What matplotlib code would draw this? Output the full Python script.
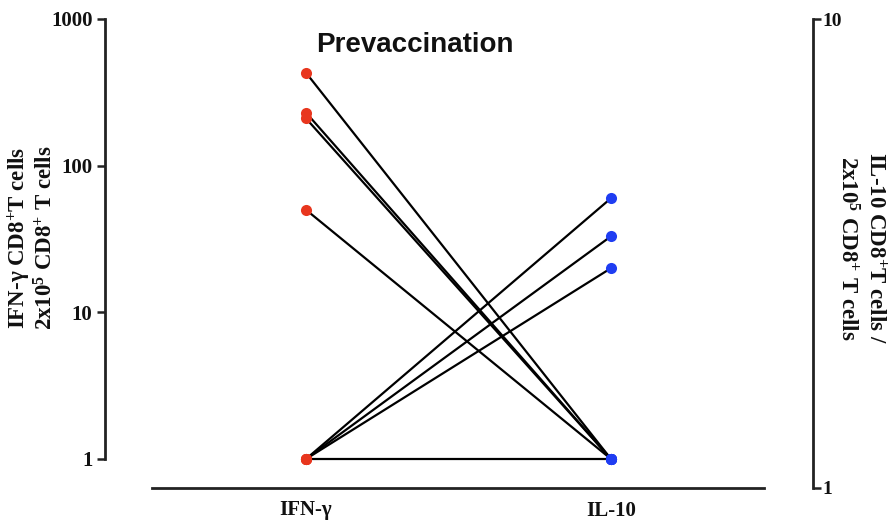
import matplotlib
matplotlib.use("Agg")
import matplotlib.pyplot as plt
import numpy as np

plt.rcParams["mathtext.fontset"] = "custom"
plt.rcParams["mathtext.rm"] = "Liberation Serif:bold"
plt.rcParams["mathtext.bf"] = "Liberation Serif:bold"
plt.rcParams["mathtext.it"] = "Liberation Serif:bold"

# Paired measurements per subject (cells per 2x10^5 CD8+ T cells)
categories = ["IFN-\u03b3", "IL-10"]
ifng_values = [430, 230, 210, 50, 1, 1, 1, 1]
il10_values = [1, 1, 1, 1, 60, 33, 20, 1]
left_ticks = [1, 10, 100, 1000]
right_ticks = [1, 10]

W, H = 892, 520
fig = plt.figure(figsize=(W / 100, H / 100), dpi=100)

ax_l, ax_r = 105, 813
ax_t, ax_b = 19, 488
ax = fig.add_axes([ax_l / W, 1 - ax_b / H, (ax_r - ax_l) / W, (ax_b - ax_t) / H])

x_ifn, x_il = 306, 611
px = x_il - x_ifn
ax.set_xlim((ax_l - x_ifn) / px, (ax_r - x_ifn) / px)
ax.set_yscale("log")
decade = (459 - ax_t) / 3.0
ax.set_ylim(10 ** (-(ax_b - 459) / decade), 1000)

spine_col = "#222222"
for i in range(len(ifng_values)):
    ax.plot([0, 1], [ifng_values[i], il10_values[i]], color="black", lw=1.6,
            solid_capstyle="round", zorder=2)
ax.plot(np.zeros(len(ifng_values)), ifng_values, "o", color="#e8361e", ms=8,
        mec="none", zorder=3)
ax.plot(np.ones(len(il10_values)), il10_values, "o", color="#1f3df2", ms=8,
        mec="none", zorder=3)

ax.spines["top"].set_visible(False)
ax.spines["right"].set_visible(False)
ax.spines["left"].set_bounds(1, 1000)
ax.spines["bottom"].set_bounds((152 - x_ifn) / px, (764 - x_ifn) / px)
for s in ("left", "bottom"):
    ax.spines[s].set_linewidth(2.0)
    ax.spines[s].set_color(spine_col)

ax.set_yticks(left_ticks)
ax.set_yticklabels([str(v) for v in left_ticks])
ax.yaxis.set_minor_locator(matplotlib.ticker.NullLocator())
ax.tick_params(axis="y", length=6, width=1.8, color=spine_col, pad=3,
               labelsize=15)
ax.set_xticks([0, 1])
ax.set_xticklabels(categories)
ax.tick_params(axis="x", length=0, pad=9, labelsize=15)
for lab in ax.get_yticklabels() + ax.get_xticklabels():
    lab.set_fontfamily("Liberation Serif")
    lab.set_fontweight("bold")
    lab.set_color("#111111")

# Secondary axis for IL-10
ax2 = ax.twinx()
ax2.set_yscale("log")
ax2.set_ylim(1, 10)
for s in ("top", "left", "bottom"):
    ax2.spines[s].set_visible(False)
ax2.spines["right"].set_linewidth(2.0)
ax2.spines["right"].set_color(spine_col)
ax2.set_yticks(right_ticks)
ax2.set_yticklabels([str(v) for v in right_ticks])
ax2.yaxis.set_minor_locator(matplotlib.ticker.NullLocator())
ax2.tick_params(axis="y", length=6, width=1.8, color=spine_col, pad=1,
                labelsize=14)
for lab in ax2.get_yticklabels():
    lab.set_fontfamily("Liberation Serif")
    lab.set_fontweight("bold")
    lab.set_color("#111111")

fig.text(415 / W, 1 - 45 / H, "Prevaccination", ha="center", va="center",
         fontsize=20, fontweight="bold", family="Liberation Sans",
         color="#111111")

lab_kw = dict(fontsize=16.5, fontweight="bold", family="Liberation Serif",
              color="#111111", ha="center", va="center")
fig.text(19 / W, 1 - 238 / H, "IFN-\u03b3 CD8$^{+}$T cells", rotation=90, **lab_kw)
fig.text(46 / W, 1 - 238 / H, "2x10$^{5}$ CD8$^{+}$ T cells", rotation=90, **lab_kw)
fig.text(875 / W, 1 - 248 / H, "IL-10 CD8$^{+}$T cells /", rotation=-90, **lab_kw)
fig.text(847 / W, 1 - 248 / H, "2x10$^{5}$ CD8$^{+}$ T cells", rotation=-90, **lab_kw)

fig.savefig("out.png", dpi=100)
